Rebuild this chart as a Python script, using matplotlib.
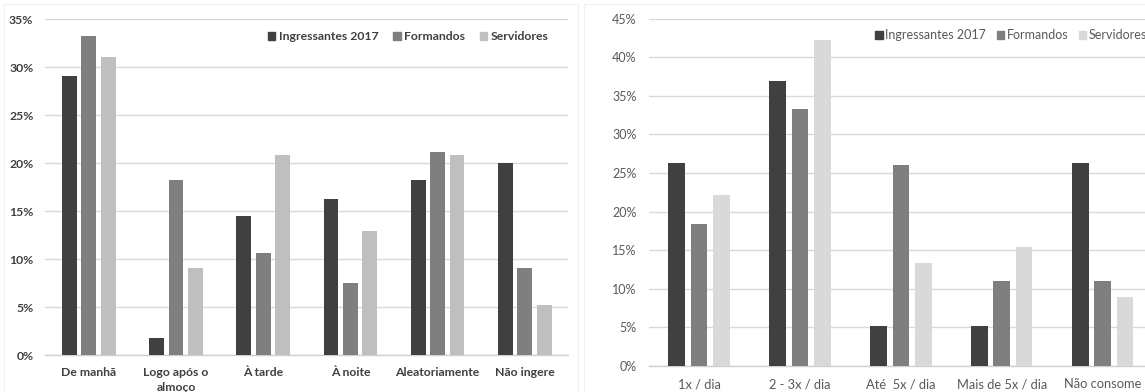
import matplotlib
matplotlib.use("Agg")
import matplotlib.pyplot as plt
import numpy as np
from matplotlib.patches import Patch, Rectangle

# ── Data ──────────────────────────────────────────────────────────────────────
series = ["Ingressantes 2017", "Formandos", "Servidores"]

when_labels = ["De manhã", "Logo após o\nalmoço", "À tarde", "À noite",
               "Aleatoriamente", "Não ingere"]
when_ingressantes = [29.1, 1.8, 14.5, 16.3, 18.2, 20.0]
when_formandos    = [33.3, 18.2, 10.6, 7.5, 21.2, 9.1]
when_servidores   = [31.1, 9.1, 20.8, 12.9, 20.8, 5.2]

freq_labels = ["1x / dia", "2 - 3x / dia", "Até  5x / dia", "Mais de 5x / dia",
               "Não consome"]
freq_ingressantes = [26.3, 36.9, 5.2, 5.2, 26.3]
freq_formandos    = [18.4, 33.3, 26.0, 11.0, 11.0]
freq_servidores   = [22.2, 42.2, 13.3, 15.4, 8.9]

yticks_left  = [0, 5, 10, 15, 20, 25, 30, 35]
yticks_right = [0, 5, 10, 15, 20, 25, 30, 35, 40, 45]

plt.rcParams["font.family"] = ["Lato", "DejaVu Sans"]

fig = plt.figure(figsize=(11.45, 3.92), dpi=100)
fig.patch.set_facecolor("white")

# faint chart-frame borders
for x0, w in [(4, 574), (584, 570)]:
    fig.patches.append(Rectangle((x0 / 1145, -0.05), w / 1145, 1.0 - 4 / 392 + 0.05,
                                 transform=fig.transFigure, fill=False,
                                 edgecolor="#f0f0f0", linewidth=0.8))


def draw_panel(ax, labels, values, colors, width, yticks, ymax,
               weight, txt_color, fs_tick, fs_cat, xpad, lspace):
    x = np.arange(len(labels))
    step = 0.222
    for i, (vals, col) in enumerate(zip(values, colors)):
        ax.bar(x + (i - 1) * step, vals, width=width, color=col, zorder=3)
    ax.set_xlim(-0.5, len(labels) - 0.5)
    ax.set_ylim(0, ymax)
    ax.set_yticks(yticks)
    ax.set_yticklabels([f"{t}%" for t in yticks], fontsize=fs_tick,
                       color=txt_color, fontweight=weight)
    ax.set_xticks(x)
    ax.set_xticklabels(labels, fontsize=fs_cat, color=txt_color,
                       fontweight=weight, linespacing=lspace, va="top")
    ax.grid(axis="y", color="#d9d9d9", linewidth=1.0, zorder=0)
    ax.tick_params(axis="y", length=0, pad=8.5)
    ax.tick_params(axis="x", length=0, pad=xpad)
    for s in ["top", "right", "left"]:
        ax.spines[s].set_visible(False)
    ax.spines["bottom"].set_color("#d0d0d0")
    ax.spines["bottom"].set_linewidth(1.0)


# ── Left panel ───────────────────────────────────────────────────────────────
ax1 = fig.add_axes([45.2 / 1145, 37 / 392, 523.2 / 1145, 335.7 / 392])
left_colors = ["#404040", "#7f7f7f", "#bfbfbf"]
draw_panel(ax1, when_labels,
           [when_ingressantes, when_formandos, when_servidores],
           left_colors, 0.17, yticks_left, 35,
           "bold", "#404040", 8.8, 8.8, 8.5, 1.5)
ax1.legend(handles=[Patch(color=c, label=s) for c, s in zip(left_colors, series)],
           loc="center left", bbox_to_anchor=(268 / 1145, 1 - 37 / 392),
           bbox_transform=fig.transFigure, ncol=3, frameon=False,
           handlelength=0.6, handleheight=0.6, handletextpad=0.3,
           columnspacing=1.2, borderaxespad=0, borderpad=0,
           prop={"size": 8.8, "weight": "bold"}, labelcolor="#404040")

# ── Right panel ──────────────────────────────────────────────────────────────
ax2 = fig.add_axes([648.6 / 1145, 26 / 392, 504.5 / 1145, 347.3 / 392])
right_colors = ["#404040", "#7f7f7f", "#d9d9d9"]
draw_panel(ax2, freq_labels,
           [freq_ingressantes, freq_formandos, freq_servidores],
           right_colors, 0.165, yticks_right, 45,
           "normal", "#595959", 9, 9.3, 9, 1.2)
ax2.legend(handles=[Patch(color=c, label=s) for c, s in zip(right_colors, series)],
           loc="center left", bbox_to_anchor=(875 / 1145, 1 - 35 / 392),
           bbox_transform=fig.transFigure, ncol=3, frameon=False,
           handlelength=0.6, handleheight=0.6, handletextpad=0.2,
           columnspacing=0.85, borderaxespad=0, borderpad=0,
           prop={"size": 9}, labelcolor="#595959")

fig.savefig("out.png", dpi=100, facecolor="white")
